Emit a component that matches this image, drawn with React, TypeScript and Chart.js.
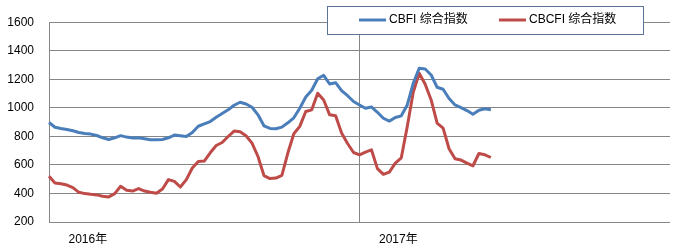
import React, { useEffect, useRef } from "react";
import { Chart, registerables } from "chart.js";

Chart.register(...registerables);

const seriesNames = ["CBFI 综合指数", "CBCFI 综合指数"];
const seriesColors = ["#4A7EBB", "#BE4B48"];

// weekly categories: 52 weeks of 2016, 53 weeks of 2017
const years = [2016, 2017];
const weeksPerYear = [52, 53];
const yearTickLabels = ["2016年", "2017年"];
const yearTickWeek = 7; // week where the year label sits

const categories: string[] = [];
years.forEach((y, k) => {
  for (let w = 1; w <= weeksPerYear[k]; w++) categories.push(`${y}-W${w}`);
});

const cbfi = [
  897, 864, 855, 848, 839, 827, 820, 816, 806, 790, 778, 790, 805, 795, 788,
  790, 783, 776, 776, 778, 790, 809, 804, 799, 827, 871, 888, 904, 934, 960,
  986, 1018, 1039, 1027, 1004, 951, 874, 856, 853, 865, 895, 930, 997, 1076,
  1123, 1204, 1228, 1167, 1176, 1120, 1085, 1044, 1020, 997, 1006, 969, 927,
  907, 932, 944, 1020, 1172, 1277, 1272, 1230, 1144, 1130, 1065, 1020, 1002,
  981, 955, 983, 993, 986,
];

const cbcfi = [
  520, 473, 468, 459, 441, 408, 399, 394, 390, 380, 376, 399, 450, 422, 417,
  434, 417, 408, 401, 431, 497, 485, 445, 497, 578, 624, 627, 685, 736, 757,
  799, 837, 832, 804, 753, 659, 525, 504, 508, 527, 683, 818, 870, 974, 986,
  1102, 1055, 951, 944, 823, 750, 687, 671, 690, 706, 574, 534, 550, 613, 650,
  869, 1109, 1242, 1165, 1055, 893, 858, 713, 643, 634, 613, 594, 680, 671, 652,
];

const yMin = 200;
const yMax = 1600;
const yStep = 200;

const FONT = "'Liberation Sans', 'Noto Sans CJK SC', sans-serif";

const legendPlugin = {
  id: "boxLegend",
  afterDraw(chart: any) {
    const ctx = chart.ctx as CanvasRenderingContext2D;
    const x0 = 327.5;
    const y0 = 6.5;
    const w = 316;
    const h = 28;
    ctx.save();
    ctx.fillStyle = "#ffffff";
    ctx.fillRect(x0, y0, w, h);
    ctx.strokeStyle = "#5a7396";
    ctx.lineWidth = 1;
    ctx.strokeRect(x0, y0, w, h);
    const cy = y0 + 13.5;
    const items = [
      { lx: 359, tx: 389 },
      { lx: 499, tx: 529 },
    ];
    items.forEach((it, i) => {
      ctx.strokeStyle = seriesColors[i];
      ctx.lineWidth = 3;
      ctx.beginPath();
      ctx.moveTo(it.lx, cy);
      ctx.lineTo(it.lx + 27, cy);
      ctx.stroke();
      ctx.fillStyle = "#000";
      ctx.font = `12px ${FONT}`;
      ctx.textBaseline = "middle";
      ctx.textAlign = "left";
      ctx.fillText(seriesNames[i], it.tx, cy);
    });
    ctx.restore();
  },
};

export default function App() {
  const ref = useRef<HTMLCanvasElement | null>(null);

  useEffect(() => {
    if (!ref.current) return;
    const yearStartIdx = weeksPerYear[0];
    const chart = new Chart(ref.current, {
      type: "line",
      data: {
        labels: categories,
        datasets: [
          {
            label: seriesNames[0],
            data: cbfi,
            borderColor: seriesColors[0],
            backgroundColor: seriesColors[0],
            borderWidth: 3,
            pointRadius: 0,
            tension: 0,
            borderJoinStyle: "round",
            fill: false,
          },
          {
            label: seriesNames[1],
            data: cbcfi,
            borderColor: seriesColors[1],
            backgroundColor: seriesColors[1],
            borderWidth: 3,
            pointRadius: 0,
            tension: 0,
            borderJoinStyle: "round",
            fill: false,
          },
        ],
      },
      options: {
        animation: false,
        responsive: true,
        maintainAspectRatio: false,
        layout: { padding: { top: 22, right: 10, left: 0, bottom: 0 } },
        plugins: {
          legend: { display: false },
          tooltip: { enabled: false },
        },
        scales: {
          x: {
            type: "category",
            offset: false,
            grid: {
              drawTicks: false,
              color: (c: any) =>
                c.index === yearStartIdx ? "#868686" : "rgba(0,0,0,0)",
              lineWidth: 1,
            },
            border: { display: false },
            ticks: {
              autoSkip: false,
              maxRotation: 0,
              padding: 10,
              labelOffset: 3,
              color: "#000",
              font: { family: FONT, size: 12 },
              callback: (_v: any, i: number) => {
                const lab = categories[i];
                for (let k = 0; k < years.length; k++) {
                  if (lab === `${years[k]}-W${yearTickWeek}`) return yearTickLabels[k];
                }
                return "";
              },
            },
            afterFit: (s: any) => {
              s.height = 28;
            },
          },
          y: {
            min: yMin,
            max: yMax,
            ticks: {
              stepSize: yStep,
              padding: 15,
              color: "#000",
              font: { family: FONT, size: 12 },
              callback: (v: any) => String(v),
            },
            grid: { drawTicks: false, color: "#868686", lineWidth: 1 },
            border: { display: true, color: "#868686", width: 1 },
            afterFit: (s: any) => {
              s.width = 49;
            },
          },
        },
      },
      plugins: [legendPlugin],
    });
    return () => chart.destroy();
  }, []);

  return (
    <div
      style={{
        position: "absolute",
        left: 0,
        top: 0,
        width: 680,
        height: 250,
        background: "#fff",
      }}
    >
      <canvas ref={ref} />
    </div>
  );
}
